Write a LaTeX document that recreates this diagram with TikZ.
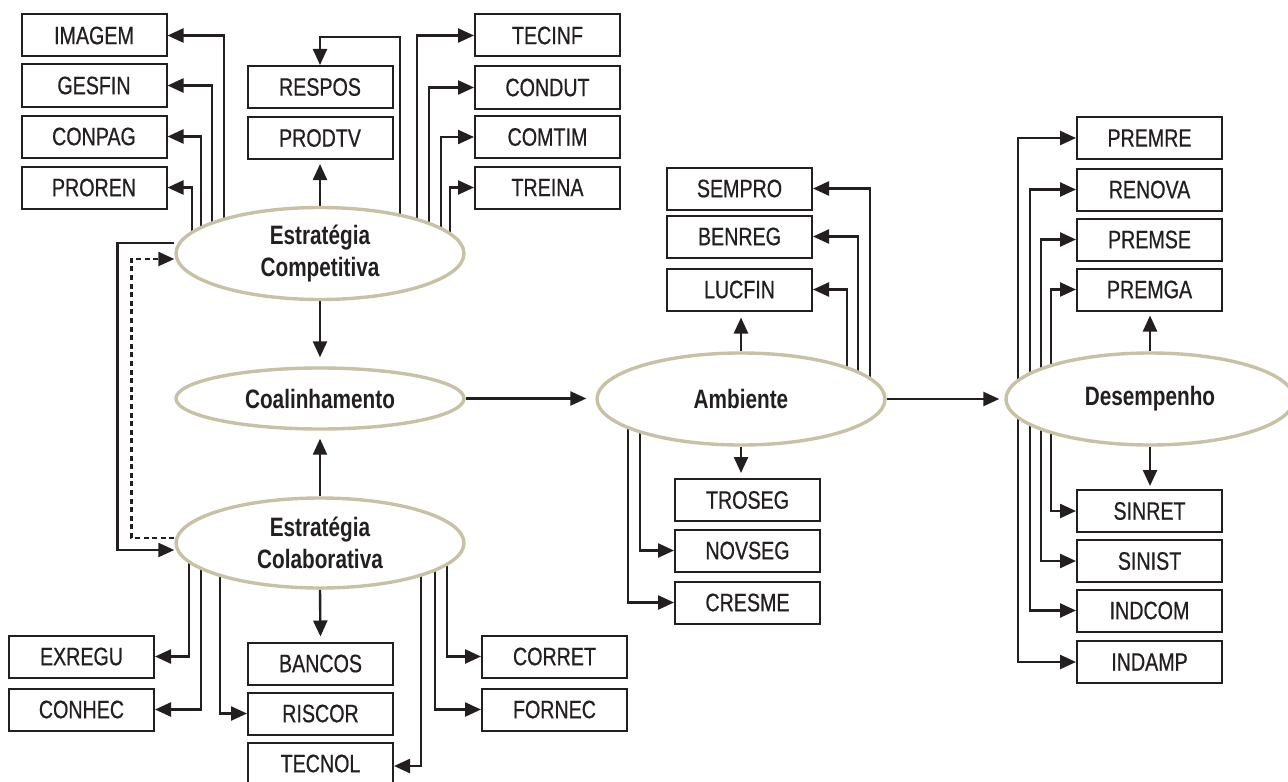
\documentclass[tikz,border=0pt]{standalone}
\usepackage{fontspec}
\setmainfont[FakeStretch=0.78]{Liberation Sans}
\newfontfamily\boxfont[FakeStretch=0.78,FakeBold=0.6]{Liberation Sans}
\usetikzlibrary{shapes.geometric,arrows.meta,calc,backgrounds}
\definecolor{ink}{HTML}{231F20}
\definecolor{khaki}{HTML}{C7C2A6}
\begin{document}
\begin{tikzpicture}[x=0.5pt,y=-0.5pt,
  box/.style={draw=ink, line width=1pt, rectangle, minimum width=72.5pt, minimum height=21pt, inner sep=0pt, font=\boxfont\fontsize{12.6}{15}\selectfont, text=ink},
  oval/.style={ellipse, draw=khaki, line width=1.7pt, fill=white, inner sep=0pt, minimum width=144pt, font=\bfseries\fontsize{13.3}{16}\selectfont, align=center, text=ink},
  arr/.style={draw=ink, line width=1.2pt, -{Triangle[length=8pt,width=7pt]}},
  dashlink/.style={dash pattern=on 2.5pt off 1.8pt}]
\useasboundingbox (0,0) rectangle (1288,781);

% ellipses
\node[oval, minimum height=46pt] (ec) at (320,253.5) {Estratégia\\Competitiva};
\node[oval, minimum height=30.5pt] (co) at (320,398.5) {Coalinhamento};
\node[oval, minimum height=45pt] (ecl) at (320,543) {Estratégia\\Colaborativa};
\node[oval, minimum height=46pt] (amb) at (741,399) {Ambiente};
\node[oval, minimum height=46pt] (des) at (1150,399) {Desempenho};

% boxes: competitive strategy
\node[box] (imagem) at (94,35.5) {IMAGEM};
\node[box] (gesfin) at (94,85.5) {GESFIN};
\node[box] (conpag) at (94,136.5) {CONPAG};
\node[box] (proren) at (94,187.5) {PROREN};
\node[box] (respos) at (320,87) {RESPOS};
\node[box] (prodtv) at (320,138) {PRODTV};
\node[box] (tecinf) at (547.5,35.5) {TECINF};
\node[box] (condut) at (547.5,87.5) {CONDUT};
\node[box] (comtim) at (547.5,137) {COMTIM};
\node[box] (treina) at (547.5,187.5) {TREINA};
% environment
\node[box] (sempro) at (739.5,188.5) {SEMPRO};
\node[box] (benreg) at (739.5,236.5) {BENREG};
\node[box] (lucfin) at (739.5,289.5) {LUCFIN};
\node[box] (troseg) at (747.5,500) {TROSEG};
\node[box] (novseg) at (747.5,550.5) {NOVSEG};
\node[box] (cresme) at (747.5,602.5) {CRESME};
% performance
\node[box] (premre) at (1149.5,138) {PREMRE};
\node[box] (renova) at (1149.5,189.5) {RENOVA};
\node[box] (premse) at (1149.5,239.5) {PREMSE};
\node[box] (premga) at (1149.5,289.5) {PREMGA};
\node[box] (sinret) at (1149.5,511) {SINRET};
\node[box] (sinist) at (1149.5,561) {SINIST};
\node[box] (indcom) at (1149.5,610.5) {INDCOM};
\node[box] (indamp) at (1149.5,662) {INDAMP};
% collaborative strategy
\node[box] (exregu) at (81.5,656.5) {EXREGU};
\node[box] (conhec) at (81.5,709.5) {CONHEC};
\node[box] (bancos) at (320.5,663.5) {BANCOS};
\node[box] (riscor) at (320.5,713.5) {RISCOR};
\node[box] (tecnol) at (320.5,763.5) {TECNOL};
\node[box] (corret) at (554.5,656.5) {CORRET};
\node[box] (fornec) at (554.5,709.5) {FORNEC};

\begin{pgfonlayer}{background}
% main chain
\draw[arr, shorten >=4.5pt] (ec.south) -- (co.north);
\draw[arr, shorten >=4pt] (ecl.north) -- (co.south);
\draw[arr, shorten >=4.5pt] (co.east) -- (co.east -| amb.west);
\draw[arr, shorten >=2.5pt] (amb.east) -- (amb.east -| des.west);

% competitive strategy
\draw[arr, shorten >=2pt] (ec.north) -- (prodtv.south);
\draw[arr] ($(ec.center)+(80,0)$) -- ++(0,-216.5) -| (respos.north);
\draw[arr] ($(ec.center)+(-96,0)$) |- (imagem.east);
\draw[arr] ($(ec.center)+(-108,0)$) |- (gesfin.east);
\draw[arr] ($(ec.center)+(-119,0)$) |- (conpag.east);
\draw[arr] ($(ec.center)+(-128,0)$) |- (proren.east);
\draw[arr] ($(ec.center)+(97,0)$) |- (tecinf.west);
\draw[arr] ($(ec.center)+(109,0)$) |- (condut.west);
\draw[arr] ($(ec.center)+(121,0)$) |- (comtim.west);
\draw[arr] ($(ec.center)+(130,0)$) |- (treina.west);

% feedback between strategies
\draw[arr] ([yshift=5.25pt]ec.west) -- ++(-57,0) |- ([yshift=-3.5pt]ecl.west);
\draw[arr, dashlink] ([yshift=2.5pt]ecl.west) -- ++(-43,0) |- ([yshift=-2.75pt]ec.west);

% collaborative strategy
\draw[arr, shorten >=2.5pt] (ecl.south) -- (bancos.north);
\draw[arr] ($(ecl.center)+(-131,0)$) |- (exregu.east);
\draw[arr] ($(ecl.center)+(-119,0)$) |- (conhec.east);
\draw[arr] ($(ecl.center)+(-100,0)$) |- (riscor.west);
\draw[arr] ($(ecl.center)+(101,0)$) |- ([yshift=-1.25pt]tecnol.east);
\draw[arr] ($(ecl.center)+(115,0)$) |- (fornec.west);
\draw[arr] ($(ecl.center)+(127,0)$) |- (corret.west);

% environment
\draw[arr, shorten >=3pt] (amb.north) -- (amb.north |- lucfin.south);
\draw[arr, shorten >=2.5pt] (amb.south) -- (amb.south |- troseg.north);
\draw[arr] ($(amb.center)+(129,0)$) |- (sempro.east);
\draw[arr] ($(amb.center)+(117,0)$) |- (benreg.east);
\draw[arr] ($(amb.center)+(106,0)$) |- (lucfin.east);
\draw[arr] ($(amb.center)+(-101,0)$) |- (novseg.west);
\draw[arr] ($(amb.center)+(-113,0)$) |- (cresme.west);

% performance
\draw[arr, shorten >=2pt] (des.north) -- (des.north |- premga.south);
\draw[arr, shorten >=1.5pt] (des.south) -- (des.south |- sinret.north);
\draw[arr] ($(des.center)+(-132,0)$) |- (premre.west);
\draw[arr] ($(des.center)+(-120,0)$) |- (renova.west);
\draw[arr] ($(des.center)+(-109,0)$) |- (premse.west);
\draw[arr] ($(des.center)+(-99,0)$) |- (premga.west);
\draw[arr] ($(des.center)+(-99,0)$) |- (sinret.west);
\draw[arr] ($(des.center)+(-109,0)$) |- (sinist.west);
\draw[arr] ($(des.center)+(-120,0)$) |- (indcom.west);
\draw[arr] ($(des.center)+(-132,0)$) |- (indamp.west);
\end{pgfonlayer}
\end{tikzpicture}
\end{document}
